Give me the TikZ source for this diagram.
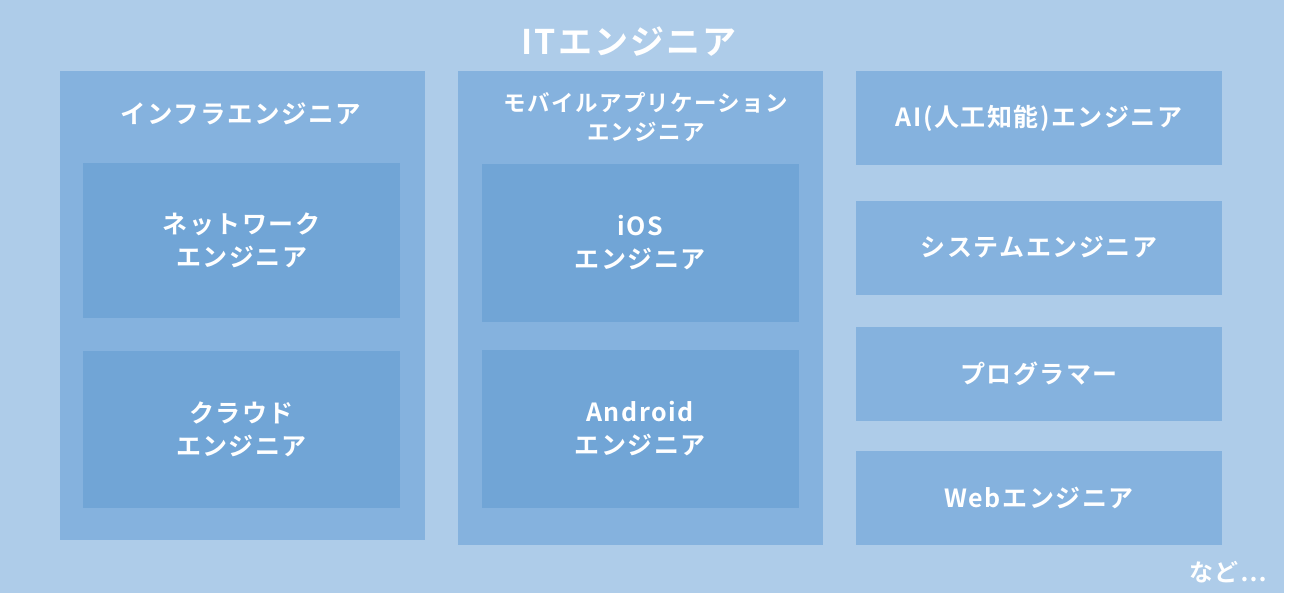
\documentclass[tikz,border=0pt]{standalone}
\usepackage{fontspec}
\setmainfont{Noto Sans CJK JP}[BoldFont={Noto Sans CJK JP Bold},LetterSpace=6]
\usepackage{tikz}
\usetikzlibrary{positioning}
\definecolor{itlight}{RGB}{174,204,233}
\definecolor{itmid}{RGB}{133,178,222}
\definecolor{itdark}{RGB}{113,165,214}
\tikzstyle{column}=[rectangle,fill=itmid,inner sep=0pt]
\tikzstyle{jobbox}=[rectangle,fill=itdark,inner sep=0pt,text=white,align=center,font=\bfseries\fontsize{25}{33}\selectfont]
\tikzstyle{sidebox}=[rectangle,fill=itmid,inner sep=0pt,text=white,align=center,font=\bfseries\fontsize{25}{33}\selectfont,minimum width=366pt,minimum height=94pt]
\tikzstyle{heading}=[text=white,align=center,font=\bfseries\fontsize{24}{29}\selectfont]

\begin{document}
\begin{tikzpicture}[x=1pt,y=-1pt]
	\def \colw {365};
	\def \boxw {317};
	\useasboundingbox (0,0) rectangle (1300,607);
	\fill[itlight] (0,0) rectangle (1284,593);

	\node[text=white,font=\bfseries\fontsize{34}{34}\selectfont] (title) at (629,42) {ITエンジニア};

	% infrastructure column
	\node[column, minimum width=\colw pt, minimum height=469pt] (infra) at (242.5,305.5) {};
	\node[heading, font=\bfseries\fontsize{25.5}{29}\selectfont] (infrahead) at (241,114) {インフラエンジニア};
	\node[jobbox, minimum width=\boxw pt, minimum height=155pt] (network) at (241.5,240.5) {ネットワーク\\エンジニア};
	\node[jobbox, minimum width=\boxw pt, minimum height=157pt] (cloud) at (241.5,429.5) {クラウド\\エンジニア};

	% mobile column
	\node[column, minimum width=\colw pt, minimum height=474pt] (mobile) at (640.5,308) {};
	\node[heading, font=\bfseries\fontsize{22.5}{29}\selectfont] (mobilehead) at (646,117) {モバイルアプリケーション\\エンジニア};
	\node[jobbox, minimum width=\boxw pt, minimum height=158pt] (ios) at (640,243) {iOS\\エンジニア};
	\node[jobbox, minimum width=\boxw pt, minimum height=158pt] (android) at (640,429) {Android\\エンジニア};

	% right column
	\foreach \name/\y/\job in {ai/118/AI(人工知能)エンジニア, system/247.5/システムエンジニア, programmer/374/プログラマー, web/498/Webエンジニア} {
		\node[sidebox] (\name) at (1039,\y) {\job};
	};

	\node[text=white,font=\bfseries\fontsize{24}{24}\selectfont] (etc) at (1228,572) {など…};
\end{tikzpicture}
\end{document}
